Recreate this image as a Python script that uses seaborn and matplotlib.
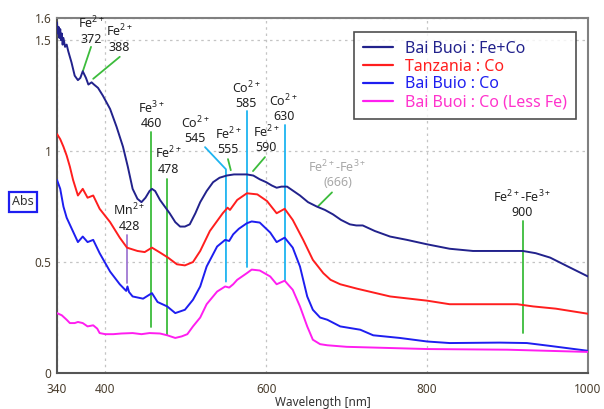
import numpy as np
import pandas as pd
import seaborn as sns
import matplotlib.pyplot as plt
from matplotlib.lines import Line2D

# --- spectra (wavelength nm, absorbance) ---
wl_fe_co = [340, 341, 342, 343, 344, 345, 346, 347, 348, 350, 352, 354, 358, 362, 366, 369,
            372, 376, 379, 383, 386, 391, 397, 406, 414, 422, 428, 434, 440, 445, 450, 455,
            458, 462, 468, 474, 480, 487, 493, 499, 505, 512, 518, 526, 534, 542, 551, 560,
            576, 584, 592, 600, 607, 613, 619, 626, 634, 642, 652, 663, 673, 683, 693, 704,
            712, 720, 735, 754, 775, 800, 828, 857, 880, 900, 919, 935, 953, 975, 1000]
abs_fe_co = [1.58, 1.53, 1.56, 1.51, 1.55, 1.50, 1.53, 1.48, 1.51, 1.47, 1.48, 1.45, 1.40, 1.34,
             1.32, 1.33, 1.36, 1.33, 1.30, 1.31, 1.30, 1.285, 1.25, 1.19, 1.11, 1.02, 0.93, 0.83,
             0.785, 0.77, 0.79, 0.82, 0.83, 0.82, 0.78, 0.75, 0.72, 0.68, 0.66, 0.66, 0.67, 0.72,
             0.77, 0.82, 0.86, 0.88, 0.89, 0.895, 0.895, 0.89, 0.873, 0.86, 0.845, 0.835, 0.84,
             0.84, 0.82, 0.80, 0.77, 0.75, 0.735, 0.715, 0.69, 0.67, 0.665, 0.665, 0.64, 0.615,
             0.60, 0.58, 0.56, 0.55, 0.55, 0.55, 0.55, 0.54, 0.52, 0.48, 0.435]

wl_tanz = [340, 344, 348, 352, 356, 360, 366, 372, 378, 385, 393, 406, 418, 427, 440, 449, 458,
           468, 478, 489, 499, 509, 518, 530, 546, 552, 555, 558, 564, 576, 589, 601, 613, 623,
           633, 646, 658, 671, 680, 692, 713, 754, 800, 828, 850, 912, 932, 960, 1000]
abs_tanz = [1.077, 1.054, 1.02, 0.98, 0.93, 0.87, 0.80, 0.83, 0.79, 0.80, 0.74, 0.68, 0.61, 0.565,
            0.55, 0.545, 0.565, 0.543, 0.52, 0.49, 0.485, 0.50, 0.55, 0.64, 0.72, 0.745, 0.735,
            0.75, 0.78, 0.81, 0.805, 0.775, 0.72, 0.74, 0.69, 0.60, 0.51, 0.45, 0.42, 0.40, 0.38,
            0.345, 0.326, 0.31, 0.31, 0.31, 0.30, 0.29, 0.267]

wl_buio = [340, 344, 348, 352, 359, 366, 372, 378, 385, 393, 406, 418, 426, 427.6, 429.5, 434,
           447, 458, 465, 477, 487, 499, 509, 518, 526, 539, 549, 554, 559, 566, 576, 582, 592,
           605, 613, 623, 633, 642, 651, 658, 667, 676, 692, 717, 733, 766, 800, 828, 890, 924,
           953, 1000]
abs_buio = [0.87, 0.83, 0.75, 0.70, 0.645, 0.59, 0.615, 0.59, 0.60, 0.54, 0.457, 0.40, 0.37, 0.39,
            0.365, 0.345, 0.335, 0.36, 0.32, 0.30, 0.27, 0.285, 0.33, 0.39, 0.48, 0.57, 0.60,
            0.595, 0.625, 0.65, 0.675, 0.683, 0.678, 0.633, 0.59, 0.61, 0.565, 0.48, 0.345, 0.285,
            0.25, 0.24, 0.21, 0.195, 0.17, 0.158, 0.142, 0.135, 0.137, 0.135, 0.122, 0.10]

wl_less_fe = [340, 346, 352, 356, 362, 366, 372, 378, 385, 390, 393, 400, 410, 420, 434, 445,
              455, 468, 477, 487, 495, 502, 509, 518, 526, 539, 549, 554, 559, 564, 576, 582,
              592, 605, 613, 623, 633, 642, 651, 658, 667, 676, 700, 730, 800, 900, 1000]
abs_less_fe = [0.27, 0.26, 0.24, 0.225, 0.225, 0.23, 0.225, 0.21, 0.215, 0.20, 0.18, 0.175, 0.175,
               0.178, 0.18, 0.175, 0.18, 0.178, 0.17, 0.158, 0.165, 0.175, 0.21, 0.25, 0.31,
               0.367, 0.39, 0.385, 0.40, 0.42, 0.45, 0.466, 0.462, 0.435, 0.40, 0.416, 0.375,
               0.30, 0.21, 0.15, 0.13, 0.125, 0.118, 0.115, 0.108, 0.105, 0.095]

labels = ['Bai Buoi : Fe+Co', 'Tanzania : Co', 'Bai Buio : Co', 'Bai Buoi : Co (Less Fe)']
colors = ['#22228c', '#ff1e1e', '#1e1ef0', '#ff1ef0']
text_colors = ['#22228c', '#ff1e1e', '#1e1ef0', '#ff33cc']

# --- peak annotations: label, text x, text bottom y, leader line points, line colour ---
GREEN, CYAN, PURPLE = '#3cbc3c', '#1eb4f0', '#a078d2'
peaks = [
    ('Fe$^{2+}$\n372', 383, 1.475, [(382.3, 1.47), (372.3, 1.362)], GREEN),
    ('Fe$^{2+}$\n388', 417, 1.44, [(418, 1.425), (385, 1.326)], GREEN),
    ('Fe$^{3+}$\n460', 457, 1.095, [(457, 1.086), (457, 0.208)], GREEN),
    ('Fe$^{2+}$\n478', 478, 0.89, [(476.7, 0.873), (476.7, 0.172)], GREEN),
    ('Mn$^{2+}$\n428', 429.5, 0.633, [(427, 0.624), (427, 0.407)], PURPLE),
    ('Co$^{2+}$\n545', 511.5, 1.027, [(524, 1.018), (550, 0.918), (550, 0.412)], CYAN),
    ('Fe$^{2+}$\n555', 552.5, 0.977, [(552.5, 0.964), (556, 0.914)], GREEN),
    ('Co$^{2+}$\n585', 575, 1.186, [(576, 1.181), (576, 0.48)], CYAN),
    ('Fe$^{2+}$\n590', 600, 0.986, [(598.5, 0.973), (583.6, 0.91)], GREEN),
    ('Co$^{2+}$\n630', 622, 1.127, [(623.4, 1.118), (623.4, 0.42)], CYAN),
    ('Fe$^{2+}$-Fe$^{3+}$\n900', 918, 0.692, [(919, 0.683), (919, 0.181)], GREEN),
]
grey_peak = ('Fe$^{2+}$-Fe$^{3+}$\n(666)', 688.7, 0.828, [(681.8, 0.814), (664.4, 0.751)], GREEN)

frames = []
for name, wl, ab in zip(labels, [wl_fe_co, wl_tanz, wl_buio, wl_less_fe],
                        [abs_fe_co, abs_tanz, abs_buio, abs_less_fe]):
    frames.append(pd.DataFrame({'wl': wl, 'abs': ab, 'sample': name}))
df = pd.concat(frames, ignore_index=True)

sns.set_style('white')
plt.rcParams['font.family'] = ['Noto Sans', 'DejaVu Sans']
plt.rcParams['mathtext.fontset'] = 'custom'
plt.rcParams['mathtext.rm'] = 'Noto Sans'
plt.rcParams['mathtext.default'] = 'rm'

fig = plt.figure(figsize=(6.04, 4.09), dpi=100)
ax = fig.add_axes([57 / 604, 36 / 409, 531 / 604, 355 / 409])

# leader lines under the spectra
for txt, tx, ty, pts, lc in peaks + [grey_peak]:
    xs, ys = zip(*pts)
    ax.plot(xs, ys, color=lc, lw=1.3, zorder=2)
    tc = '#a8a8a8' if '(666)' in txt else '#222222'
    ax.text(tx, ty, txt, ha='center', va='bottom', fontsize=9, color=tc,
            linespacing=1.1, zorder=5)

sns.lineplot(data=df, x='wl', y='abs', hue='sample', palette=dict(zip(labels, colors)),
             estimator=None, sort=False, lw=1.4, legend=False, ax=ax, zorder=3)

ax.set_xlim(340, 1000)
ax.set_ylim(0, 1.6)
ax.set_xticks([340, 400, 600, 800, 1000])
ax.set_xticks([500, 700, 900], minor=True)
ax.set_yticks([0, 0.5, 1, 1.5, 1.6])
ax.set_yticklabels(['0', '0.5', '1', '1.5', '1.6'])
ax.set_yticks([0.25, 0.75, 1.25], minor=True)
ax.tick_params(which='major', direction='in', length=5, width=1.2, color='#555555',
               labelsize=8.5, labelcolor='#4b3f2f')
ax.tick_params(axis='x', which='major', pad=7)
ax.tick_params(axis='y', which='major', pad=4)
ax.tick_params(which='minor', direction='in', length=3, width=1.0, color='#555555')
ax.grid(True, which='major', ls=(0, (2, 3)), color='#c4c4c4', lw=0.9)
for side in ['left', 'bottom']:
    ax.spines[side].set_color('#555555')
    ax.spines[side].set_linewidth(1.5)
for side in ['top', 'right']:
    ax.spines[side].set_color('#808080')
    ax.spines[side].set_linewidth(1.5)

ax.set_xlabel('Wavelength [nm]', fontsize=8.5, color='#333333', labelpad=0)
ax.set_ylabel('')
fig.text(23 / 604, 1 - 202 / 409, 'Abs', ha='center', va='center', fontsize=9,
         color='#333333',
         bbox=dict(boxstyle='square,pad=0.28', fc='white', ec='#1e1ef0', lw=1.6))

handles = [Line2D([], [], color=c, lw=1.6) for c in colors]
leg = ax.legend(handles, labels, loc='upper right', bbox_to_anchor=(0.977, 0.961),
                fontsize=11.5, frameon=True, fancybox=False, labelspacing=0.12,
                handlelength=1.9, handletextpad=0.75, borderpad=0.55, borderaxespad=0)
leg.get_frame().set_edgecolor('#222222')
leg.get_frame().set_linewidth(1.2)
for t, c in zip(leg.get_texts(), text_colors):
    t.set_color(c)
leg.set_zorder(6)

fig.savefig('out.png', dpi=100)
